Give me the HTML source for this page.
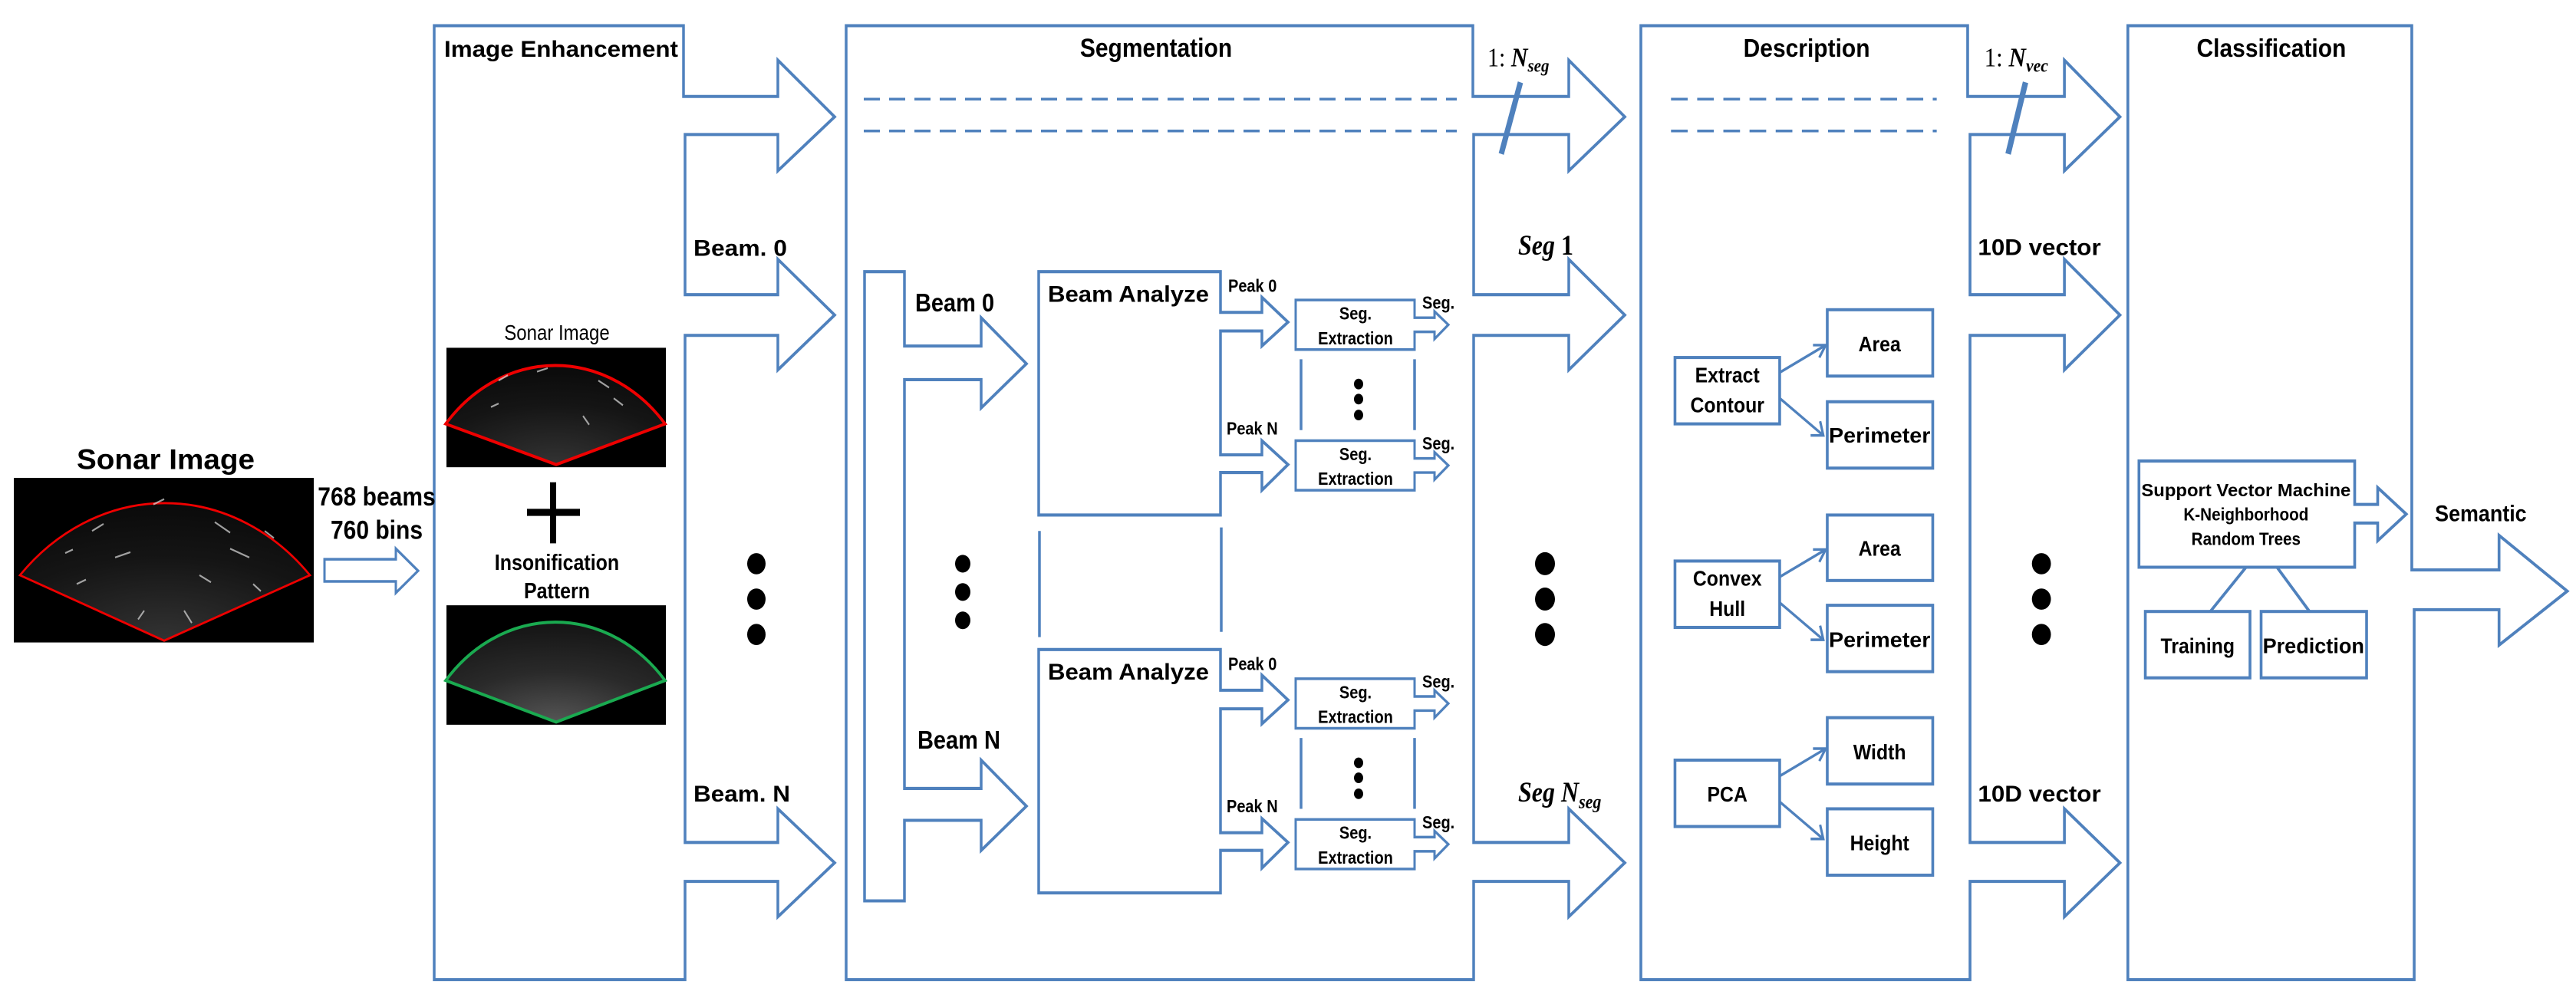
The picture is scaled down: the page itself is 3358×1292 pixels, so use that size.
<!DOCTYPE html>
<html><head><meta charset="utf-8"><style>html,body{margin:0;padding:0;background:#fff}svg{display:block}</style></head>
<body>
<svg width="3358" height="1292" viewBox="0 0 3358 1292" xmlns="http://www.w3.org/2000/svg" font-family="Liberation Sans, sans-serif">
<defs>
<radialGradient id="g1" cx="0.5" cy="1" r="1"><stop offset="0" stop-color="#333"/><stop offset="0.6" stop-color="#151515"/><stop offset="1" stop-color="#0a0a0a"/></radialGradient>
<radialGradient id="g2" cx="0.5" cy="1" r="1"><stop offset="0" stop-color="#555"/><stop offset="0.5" stop-color="#2a2a2a"/><stop offset="1" stop-color="#141414"/></radialGradient>
</defs>
<g transform="scale(1,1.1537)">
<g fill="none" stroke="#4f81bd" stroke-width="3.5">
<path d="M566,29 H891 V109 H1014 V68 L1088,132 L1014,193 V152 H893 V333 H1014 V293 L1088,356 L1014,418 V379 H893 V952 H1014 V914 L1088,975 L1014,1036 V996 H893 V1107 H566 Z"/>
<path d="M1103,29 H1920 V109 H2045 V68 L2118,132 L2045,193 V152 H1921 V333 H2045 V293 L2118,356 L2045,418 V379 H1921 V952 H2045 V914 L2118,975 L2045,1036 V996 H1921 V1107 H1103 Z"/>
<path d="M423,632 H516 V620 L545,645 L516,670 V657 H423 Z" stroke-width="3"/>
<g stroke-dasharray="21,12" stroke-width="3">
<line x1="1126" y1="112" x2="1899" y2="112"/><line x1="1126" y1="148" x2="1899" y2="148"/>
</g>
<line x1="1982" y1="93" x2="1957" y2="174" stroke-width="7"/>
<path d="M1179,307 H1127 V1018 H1179 V927 H1279 V961 L1338,911 L1279,859 V891 H1179 V429 H1279 V461 L1338,411 L1279,359 V391 H1179 Z"/>
<path d="M1354,307 H1591 V353 H1645 V336 L1679,364 L1645,391 V374 H1591 V514 H1645 V498 L1679,525 L1645,554 V534 H1591 V582 H1354 Z"/>
<g transform="translate(0,427)"><path d="M1354,307 H1591 V353 H1645 V336 L1679,364 L1645,391 V374 H1591 V514 H1645 V498 L1679,525 L1645,554 V534 H1591 V582 H1354 Z"/></g>
<line x1="1355" y1="600" x2="1355" y2="720"/><line x1="1592" y1="596" x2="1592" y2="714"/>
<g id="se"><path d="M1689,339 H1844 V359 H1870 V352 L1888,367 L1870,383 V375 H1844 V395 H1689 Z" stroke-width="3"/></g>
<use href="#se" transform="translate(0,159)"/>
<use href="#se" transform="translate(0,428)"/>
<use href="#se" transform="translate(0,587)"/>
<line x1="1696" y1="406" x2="1696" y2="486"/><line x1="1844" y1="406" x2="1844" y2="486"/>
<line x1="1696" y1="834" x2="1696" y2="914"/><line x1="1844" y1="834" x2="1844" y2="914"/>
</g>
<rect x="18" y="540" width="391" height="186" fill="#000"/>
<path d="M26,650 A260,260 0 0 1 404,650 L214,724 Z" fill="url(#g1)" stroke="#e00" stroke-width="2.5"/>
<rect x="582" y="393" width="286" height="135" fill="#000"/>
<path d="M581,479 A188,188 0 0 1 867,479 L725,525 Z" fill="url(#g1)" stroke="#e00" stroke-width="3.5"/>
<rect x="582" y="684" width="286" height="135" fill="#000"/>
<path d="M581,769 A188,188 0 0 1 867,769 L725,816 Z" fill="url(#g2)" stroke="#1aaa50" stroke-width="3.5"/>
<g stroke="#ddd" stroke-width="2" opacity="0.7">
<path d="M120,600 l15,-8 M150,630 l20,-6 M280,590 l20,12 M300,620 l25,10 M260,650 l15,8 M100,660 l12,-5 M330,660 l10,8 M180,700 l8,-10 M240,690 l10,14 M200,570 l14,-6 M85,625 l10,-4 M345,600 l12,8"/>
<path d="M650,430 l12,-6 M700,420 l14,-4 M780,430 l14,8 M800,450 l12,8 M760,470 l8,10 M640,460 l10,-4"/>
</g>
<rect x="687" y="575" width="69" height="8" fill="#000"/><rect x="717" y="545" width="8" height="69" fill="#000"/>
<g fill="#000">
<circle cx="986" cy="637" r="12"/><circle cx="986" cy="677" r="12"/><circle cx="986" cy="717" r="12"/>
<circle cx="2014" cy="637" r="13"/><circle cx="2014" cy="677" r="13"/><circle cx="2014" cy="717" r="13"/>
<circle cx="1255" cy="637" r="10"/><circle cx="1255" cy="669" r="10"/><circle cx="1255" cy="701" r="10"/>
<circle cx="1771" cy="434" r="6"/><circle cx="1771" cy="451" r="6"/><circle cx="1771" cy="469" r="6"/>
<circle cx="1771" cy="862" r="6"/><circle cx="1771" cy="879" r="6"/><circle cx="1771" cy="897" r="6"/>
</g>
<g fill="#000" font-weight="bold">
<text x="100" y="530" font-size="32" textLength="232" lengthAdjust="spacingAndGlyphs">Sonar Image</text>
<text x="491" y="571" font-size="30" text-anchor="middle">768 beams</text>
<text x="491" y="609" font-size="30" text-anchor="middle">760 bins</text>
<text x="579" y="64" font-size="26" textLength="305" lengthAdjust="spacingAndGlyphs">Image Enhancement</text>
<text x="726" y="384" font-size="24" text-anchor="middle" font-weight="normal">Sonar Image</text>
<text x="726" y="644" font-size="25" text-anchor="middle">Insonification</text>
<text x="726" y="676" font-size="25" text-anchor="middle">Pattern</text>
<text x="904" y="289" font-size="26" textLength="122" lengthAdjust="spacingAndGlyphs">Beam. 0</text>
<text x="904" y="906" font-size="26" textLength="126" lengthAdjust="spacingAndGlyphs">Beam. N</text>
<text x="1507" y="64" font-size="30" text-anchor="middle">Segmentation</text>
<text x="1193" y="352" font-size="29">Beam 0</text>
<text x="1196" y="846" font-size="29">Beam N</text>
<text x="1366" y="341" font-size="26" textLength="210" lengthAdjust="spacingAndGlyphs">Beam Analyze</text>
<text x="1366" y="768" font-size="26" textLength="210" lengthAdjust="spacingAndGlyphs">Beam Analyze</text>
<g font-size="20">
<text x="1601" y="330">Peak 0</text><text x="1599" y="491">Peak N</text>
<text x="1601" y="757">Peak 0</text><text x="1599" y="918">Peak N</text>
<text x="1854" y="349">Seg.</text><text x="1854" y="508">Seg.</text>
<text x="1854" y="777">Seg.</text><text x="1854" y="936">Seg.</text>
<g text-anchor="middle"><text x="1767" y="361">Seg.</text><text x="1767" y="389">Extraction</text>
<text x="1767" y="520">Seg.</text><text x="1767" y="548">Extraction</text>
<text x="1767" y="789">Seg.</text><text x="1767" y="817">Extraction</text>
<text x="1767" y="948">Seg.</text><text x="1767" y="976">Extraction</text></g>
</g>
</g>
<g fill="#000" font-family="Liberation Serif, serif" font-size="30">
<text x="1939" y="75">1: <tspan font-style="italic" font-weight="bold">N</tspan><tspan font-style="italic" font-weight="bold" font-size="21" dy="6">seg</tspan></text>
<text x="1979" y="288" font-style="italic" font-weight="bold" font-size="32">Seg <tspan font-style="normal">1</tspan></text>
<text x="1979" y="906" font-style="italic" font-weight="bold" font-size="32">Seg N<tspan font-size="22" dy="7">seg</tspan></text>
</g>

<g transform="translate(2200,0) scale(1.0339,1) translate(-2200,0)">
<g fill="none" stroke="#4f81bd" stroke-width="3.5">
<path d="M2141,29 H2553 V109 H2675 V68 L2745,132 L2675,193 V152 H2556 V333 H2675 V293 L2745,356 L2675,418 V379 H2556 V952 H2675 V914 L2745,975 L2675,1036 V996 H2556 V1107 H2141 Z"/>
<path d="M2755,29 H3113 V644 H3223 V605 L3309,668 L3223,729 V689 H3116 V1107 H2755 Z"/>
<g stroke-dasharray="21,12" stroke-width="3">
<line x1="2179" y1="112" x2="2514" y2="112"/><line x1="2179" y1="148" x2="2514" y2="148"/>
</g>
<line x1="2626" y1="93" x2="2604" y2="174" stroke-width="7"/>
<rect x="2184" y="404" width="132" height="75"/>
<rect x="2376" y="350" width="133" height="75"/><rect x="2376" y="454" width="133" height="75"/>
<rect x="2184" y="634" width="132" height="75"/>
<rect x="2376" y="582" width="133" height="74"/><rect x="2376" y="684" width="133" height="75"/>
<rect x="2184" y="859" width="132" height="75"/>
<rect x="2376" y="811" width="133" height="75"/><rect x="2376" y="914" width="133" height="75"/>
<g stroke-width="3">
<path d="M2316,421 L2374,390 M2358,390 L2374,390 L2366,404"/>
<path d="M2316,450 L2371,492 M2355,492 L2371,492 L2367,476"/>
<path d="M2316,652 L2374,621 M2358,621 L2374,621 L2366,635"/>
<path d="M2316,681 L2371,723 M2355,723 L2371,723 L2367,707"/>
<path d="M2316,877 L2374,846 M2358,846 L2374,846 L2366,860"/>
<path d="M2316,906 L2371,948 M2355,948 L2371,948 L2367,932"/>
</g>
<path d="M2769,521 H3041 V570 H3070 V551 L3106,581 L3070,611 V591 H3041 V641 H2769 Z"/>
<rect x="2777" y="691" width="132" height="75"/><rect x="2923" y="691" width="133" height="75"/>
<line x1="2904" y1="641" x2="2859" y2="691"/><line x1="2943" y1="641" x2="2984" y2="691"/>
</g>
<g fill="#000">
<circle cx="2646" cy="637" r="12"/><circle cx="2646" cy="677" r="12"/><circle cx="2646" cy="717" r="12"/>
</g>
<g fill="#000" font-weight="bold">
<text x="2350" y="64" font-size="29" text-anchor="middle">Description</text>
<text x="2936" y="64" font-size="29" text-anchor="middle">Classification</text>
<text x="2566" y="288" font-size="26" textLength="155" lengthAdjust="spacingAndGlyphs">10D vector</text>
<text x="2566" y="906" font-size="26" textLength="155" lengthAdjust="spacingAndGlyphs">10D vector</text>
<g font-size="24" text-anchor="middle">
<text x="2250" y="432">Extract</text><text x="2250" y="466">Contour</text>
<text x="2250" y="662">Convex</text><text x="2250" y="696">Hull</text>
<text x="2250" y="906">PCA</text>
<text x="2442" y="397">Area</text><text x="2442" y="500" textLength="128" lengthAdjust="spacingAndGlyphs">Perimeter</text>
<text x="2442" y="628">Area</text><text x="2442" y="731" textLength="128" lengthAdjust="spacingAndGlyphs">Perimeter</text>
<text x="2442" y="858">Width</text><text x="2442" y="961">Height</text>
<text x="2843" y="738">Training</text><text x="2989" y="738" textLength="128" lengthAdjust="spacingAndGlyphs">Prediction</text>
</g>
<g font-size="20" text-anchor="middle">
<text x="2904" y="561" textLength="264" lengthAdjust="spacingAndGlyphs">Support Vector Machine</text>
<text x="2904" y="588">K-Neighborhood</text>
<text x="2904" y="616">Random Trees</text>
</g>
<text x="3200" y="589" font-size="26" text-anchor="middle">Semantic</text>
</g>
<g fill="#000" font-family="Liberation Serif, serif" font-size="30">
<text x="2574" y="75">1: <tspan font-style="italic" font-weight="bold">N</tspan><tspan font-style="italic" font-weight="bold" font-size="21" dy="6">vec</tspan></text>
</g>
</g>
</g>
</svg>
</body></html>
